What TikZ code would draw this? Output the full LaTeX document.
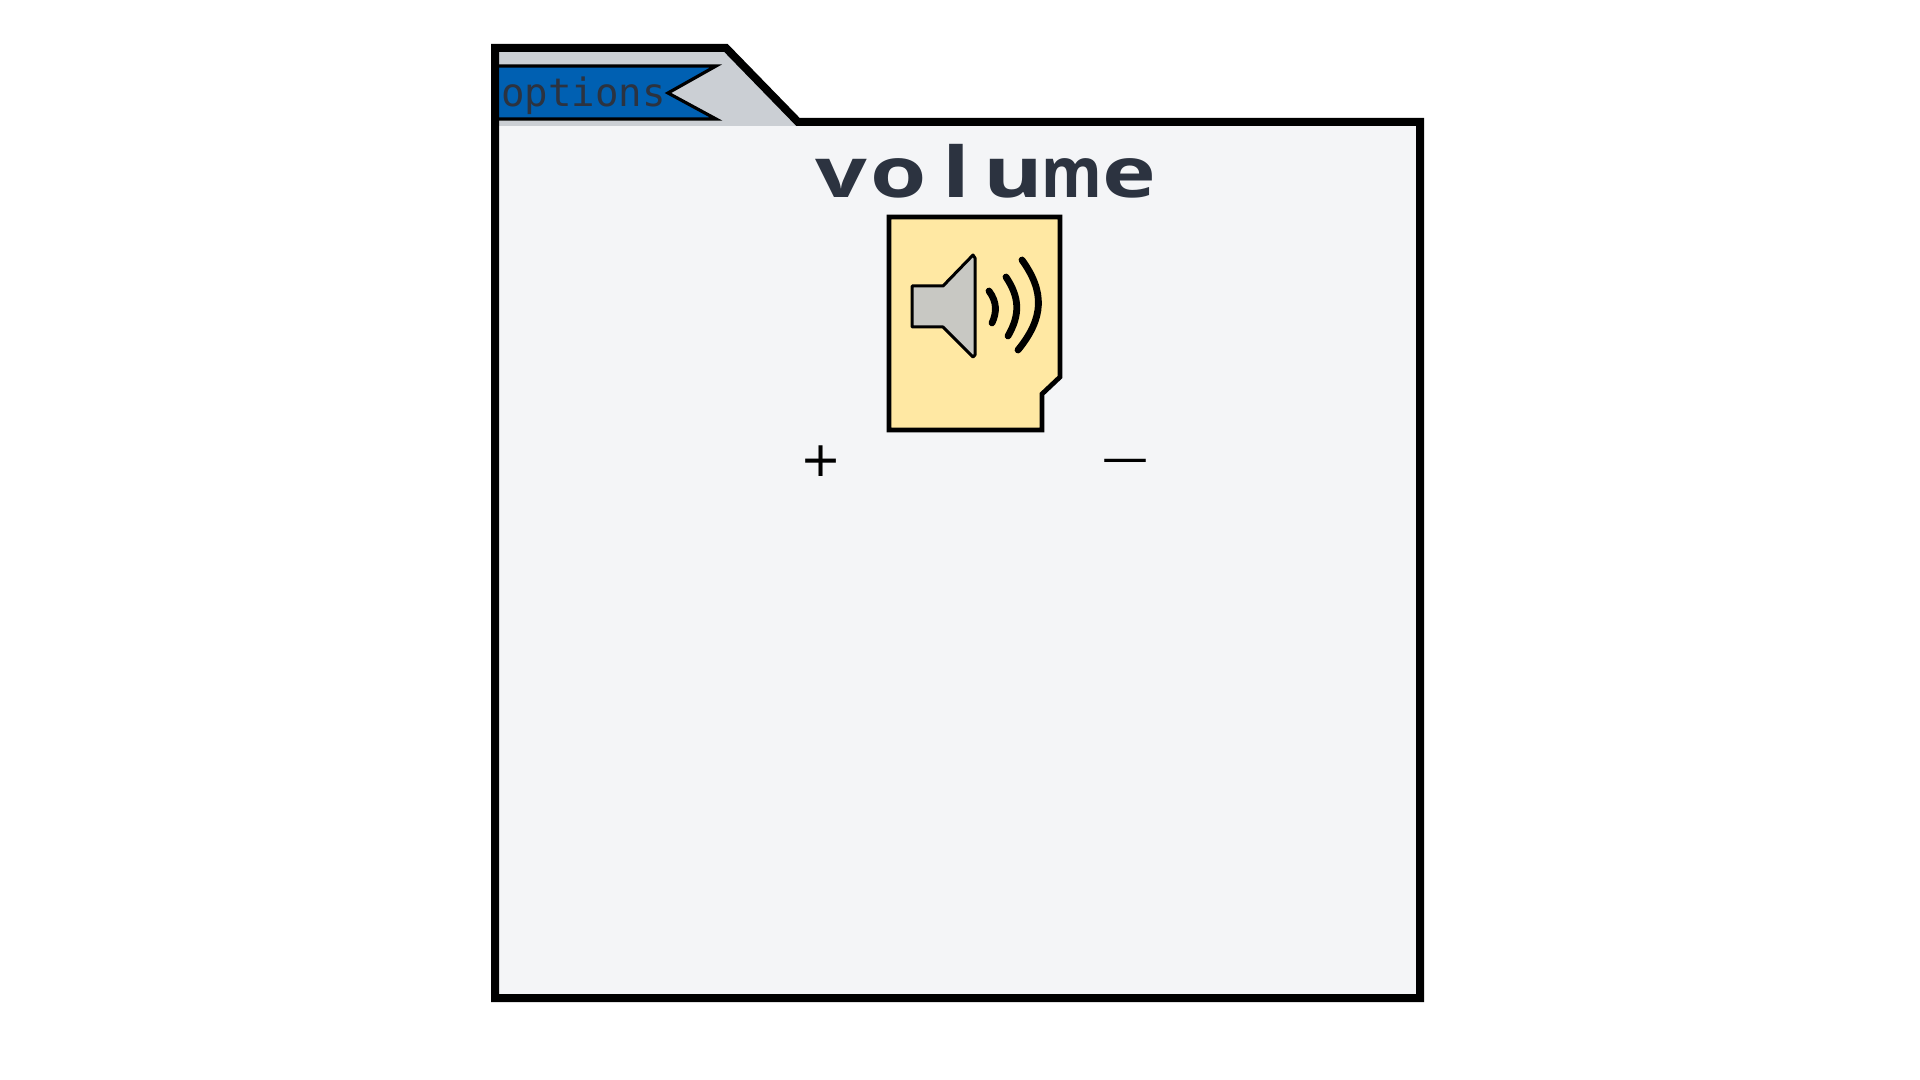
\documentclass[tikz,border=0pt]{standalone}
\usepackage{fontspec}
\setmonofont{DejaVu Sans Mono}
\setmainfont{DejaVu Sans}
\newfontfamily\titlefont{Open Sans}
\definecolor{bodygray}{RGB}{244,245,247}
\definecolor{tabgray}{RGB}{203,207,212}
\definecolor{flagblue}{RGB}{0,96,178}
\definecolor{inkdark}{RGB}{44,51,64}
\definecolor{noteyellow}{RGB}{255,232,163}
\definecolor{speakergray}{RGB}{200,200,195}
\tikzset{
  outline/.style={draw=black,line width=4pt,miter limit=10},
  wave/.style={draw=black,line width=3.4pt,line cap=round},
  sign/.style={inner sep=0pt,text=black}
}

\begin{document}
\begin{tikzpicture}[x=.5pt,y=-.5pt]
\useasboundingbox (0,0) rectangle (1920,1080);
% folder
\fill[bodygray] (495,122) rectangle (1420,998);
\fill[tabgray] (495,48)--(726,48)--(802,126)--(495,126)--cycle;
\fill[flagblue,draw=black,line width=1.6pt] (499,66)--(716,66)--(668,93)--(716,119)--(499,119);
\draw[outline] (495,998)--(495,48)--(726,48)--(798,122)--(1420,122)--(1420,998)--cycle;
\node[font=\ttfamily\fontsize{19.5pt}{20pt}\selectfont,text=inkdark,inner sep=0pt,anchor=base west] (options) at (501,107) {options};
\node[font=\titlefont\bfseries\fontsize{35pt}{36pt}\selectfont,text=inkdark,inner sep=0pt,anchor=base,xscale=1.3] (title) at (985,198) {\foreach \ch in {v,o,l,u,\scalebox{.68}[1]{m},e}{\makebox[22.15pt]{\ch}}};
% note with speaker
\draw[draw=black,fill=noteyellow,line width=2.4pt] (889,217)--(1060,217)--(1060,377)--(1042,394)--(1042,430)--(889,430)--cycle;
\draw[draw=black,fill=speakergray,line width=1.5pt,line join=round] (912,286)--(943,286)--(973,255)--(975,258)--(975,355)--(973,357)--(943,327)--(912,327)--cycle;
\draw[wave] (989,291) .. controls (997,302) and (997,312) .. (992,323);
\draw[wave] (1006,277) .. controls (1020,298) and (1020,315) .. (1008,336);
\draw[wave] (1022,260) .. controls (1045,292) and (1044,318) .. (1018,350);
% plus and minus
\node[sign,font=\fontsize{24.5pt}{26pt}\selectfont] (plus) at (821,461) {+};
\node[sign,font=\fontsize{23pt}{24pt}\selectfont] (minus) at (1125,466) {—};
\end{tikzpicture}
\end{document}
